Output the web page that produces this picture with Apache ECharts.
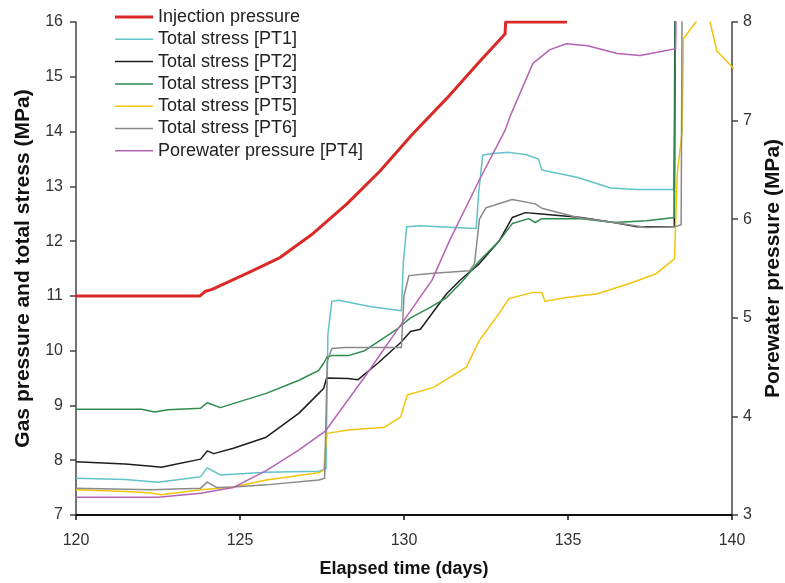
<!DOCTYPE html>
<html>
<head>
<meta charset="utf-8">
<script src="https://cdn.jsdelivr.net/npm/echarts@6/dist/echarts.min.js"></script>
<style>
html,body{margin:0;padding:0;background:#fff;}
#chart{width:785px;height:583px;}
</style>
</head>
<body>
<div id="chart"></div>
<script>
// x: elapsed time (days); left y: MPa; right y: porewater MPa
const xTicks = [120, 125, 130, 135, 140];
const leftTicks = [7, 8, 9, 10, 11, 12, 13, 14, 15, 16];
const rightTicks = [3, 4, 5, 6, 7, 8];

const injection = [[120,11.0],[123.78,11.0],[123.93,11.08],[124.15,11.12],[125.21,11.41],[126.22,11.70],[127.23,12.14],[128.26,12.68],[129.27,13.28],[130.27,13.96],[131.31,14.61],[132.32,15.29],[133.08,15.78],[133.1,16.0],[134.97,16.0]];

const pt1 = [[120,7.67],[121.5,7.65],[122.5,7.6],[123.8,7.7],[124.0,7.86],[124.4,7.73],[125.8,7.78],[127.4,7.8],[127.62,7.84],[127.68,10.3],[127.8,10.9],[128.0,10.92],[129.0,10.8],[129.92,10.73],[129.98,11.6],[130.08,12.26],[130.5,12.28],[131.5,12.25],[132.2,12.23],[132.28,12.9],[132.4,13.57],[132.7,13.6],[133.2,13.62],[133.7,13.58],[134.1,13.5],[134.2,13.3],[135.3,13.16],[136.3,12.97],[137.1,12.94],[138.22,12.94],[138.27,16.6]];

const pt2 = [[120,7.97],[121.5,7.93],[122.3,7.89],[122.6,7.87],[123.0,7.92],[123.8,8.02],[124.0,8.17],[124.2,8.12],[124.8,8.22],[125.8,8.42],[126.8,8.86],[127.4,9.22],[127.55,9.31],[127.64,9.5],[128.3,9.49],[128.6,9.47],[129.2,9.77],[129.9,10.15],[130.2,10.35],[130.5,10.39],[131.3,11.04],[131.7,11.28],[132.3,11.59],[132.9,12.0],[133.3,12.43],[133.7,12.52],[134.1,12.5],[135.4,12.43],[136.4,12.34],[137.1,12.26],[138.24,12.26],[138.27,16.6]];

const pt3 = [[120,8.93],[122.0,8.93],[122.4,8.88],[122.8,8.92],[123.8,8.95],[124.0,9.05],[124.4,8.96],[125.8,9.22],[126.8,9.46],[127.4,9.64],[127.55,9.77],[127.65,9.88],[127.8,9.91],[128.3,9.91],[128.8,10.0],[129.8,10.4],[130.2,10.6],[130.8,10.79],[131.3,10.97],[131.8,11.28],[132.3,11.64],[132.9,12.0],[133.3,12.32],[133.8,12.41],[134.0,12.34],[134.2,12.41],[135.4,12.41],[136.4,12.34],[137.4,12.37],[138.24,12.43],[138.28,16.6]];

const pt5 = [[120,7.46],[121.5,7.43],[122.3,7.4],[122.6,7.37],[123.8,7.46],[124.8,7.51],[125.8,7.64],[127.4,7.77],[127.55,7.82],[127.65,8.49],[128.3,8.55],[129.4,8.6],[129.9,8.79],[130.0,9.0],[130.1,9.19],[130.9,9.33],[131.9,9.7],[132.3,10.19],[132.9,10.68],[133.2,10.95],[133.9,11.06],[134.2,11.06],[134.3,10.9],[134.95,10.97],[135.9,11.04],[136.9,11.23],[137.7,11.41],[138.25,11.68],[138.28,12.32],[138.33,13.23],[138.48,14.0],[138.52,15.7],[138.9,16.0],[139.1,16.6],[139.25,16.6],[139.33,16.0],[139.54,15.47],[140.05,15.15]];

const pt6 = [[120,7.49],[122.3,7.46],[123.8,7.49],[124.0,7.6],[124.3,7.5],[124.8,7.51],[125.8,7.55],[127.4,7.64],[127.58,7.67],[127.66,9.8],[127.8,10.04],[128.2,10.06],[129.92,10.06],[130.0,11.0],[130.15,11.37],[130.8,11.41],[132.0,11.46],[132.15,11.59],[132.3,12.4],[132.5,12.61],[133.3,12.76],[134.0,12.68],[134.2,12.6],[135.3,12.43],[136.4,12.34],[137.4,12.25],[138.25,12.26],[138.45,12.3],[138.48,16.6]];

const pt4 = [[120,3.18],[122.5,3.18],[123.8,3.22],[124.8,3.28],[125.8,3.45],[126.8,3.66],[127.6,3.85],[128.8,4.4],[129.8,4.88],[130.85,5.38],[131.4,5.79],[132.3,6.4],[133.08,6.9],[133.23,7.04],[133.93,7.58],[134.45,7.72],[134.95,7.78],[135.6,7.76],[136.5,7.68],[137.2,7.66],[138.0,7.71],[138.28,7.73],[138.3,8.3]];

const names = ['Injection pressure','Total stress [PT1]','Total stress [PT2]','Total stress [PT3]','Total stress [PT5]','Total stress [PT6]','Porewater pressure [PT4]'];
const colors = ['#d92a28','#62c2c6','#1e1e1e','#2f8a4c','#f2c40c','#8a8a8a','#b464b4'];
const datasets = [injection, pt1, pt2, pt3, pt5, pt6, pt4];

const chart = echarts.init(document.getElementById('chart'), null, {renderer:'canvas'});
const font = 'Liberation Sans, Arial, sans-serif';

const series = datasets.map((d, i) => ({
  name: names[i],
  type: 'line',
  data: d,
  yAxisIndex: i === 6 ? 1 : 0,
  symbol: 'none',
  clip: true,
  lineStyle: {color: colors[i], width: i === 0 ? 3 : 1.5, join: 'round'},
  itemStyle: {color: colors[i]},
  z: i === 0 ? 5 : 2
}));

const legendData = names.map((n, i) => ({
  name: n,
  icon: i === 0 ? 'path://M0,0H38V3H0Z' : 'path://M0,0H38V1.5H0Z',
  itemStyle: {color: colors[i]}
}));

chart.setOption({
  animation: false,
  backgroundColor: '#fff',
  grid: {left: 76, right: 53, top: 22, bottom: 68, containLabel: false, outerBoundsMode: 'none'},
  legend: {
    orient: 'vertical',
    left: 110,
    top: 3,
    itemWidth: 38,
    itemHeight: 14,
    itemGap: 4.3,
    data: legendData,
    textStyle: {fontFamily: font, fontSize: 18, lineHeight: 18, color: '#222'}
  },
  xAxis: {
    type: 'value', min: 120, max: 140, interval: 5,
    axisLine: {lineStyle: {color: '#111', width: 2}},
    axisTick: {show: true, length: 5, lineStyle: {color: '#111', width: 1.5}},
    axisLabel: {fontFamily: font, fontSize: 16, color: '#333', margin: 18},
    splitLine: {show: false},
    name: 'Elapsed time (days)', nameLocation: 'middle', nameGap: 45,
    nameTextStyle: {fontFamily: font, fontSize: 18, fontWeight: 'bold', color: '#111'}
  },
  yAxis: [{
    type: 'value', min: 7, max: 16, interval: 1,
    axisLine: {show: true, lineStyle: {color: '#444', width: 1.5}},
    axisTick: {show: true, length: 6, lineStyle: {color: '#444', width: 1.5}},
    axisLabel: {fontFamily: font, fontSize: 16, color: '#333', margin: 13},
    splitLine: {show: false},
    name: 'Gas pressure and total stress (MPa)', nameLocation: 'middle', nameGap: 42,
    nameTextStyle: {fontFamily: font, fontSize: 21, fontWeight: 'bold', color: '#111'}
  }, {
    type: 'value', min: 3, max: 8, interval: 1, position: 'right',
    axisLine: {show: true, lineStyle: {color: '#444', width: 1.5}},
    axisTick: {show: true, length: 6, lineStyle: {color: '#444', width: 1.5}},
    axisLabel: {fontFamily: font, fontSize: 16, color: '#333', margin: 11},
    splitLine: {show: false},
    name: 'Porewater pressure (MPa)', nameLocation: 'middle', nameGap: 28,
    nameRotate: 90,
    nameTextStyle: {fontFamily: font, fontSize: 21, fontWeight: 'bold', color: '#111'}
  }],
  series: series
});
</script>
</body>
</html>
